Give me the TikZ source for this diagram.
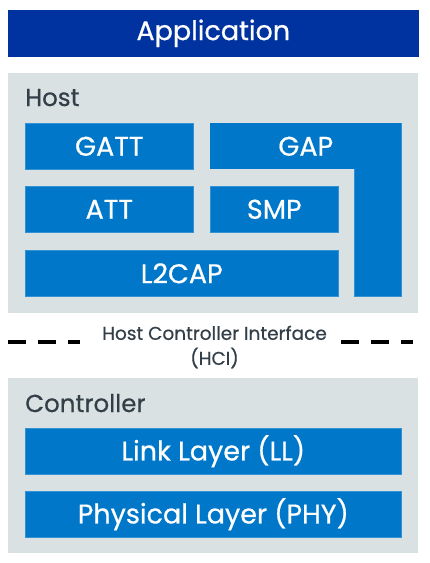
\documentclass[tikz,border=0pt]{standalone}
\usepackage{fontspec}
\setmainfont{Poppins}
\newfontfamily\blkfont{Poppins}[FakeBold=0.6]
\usetikzlibrary{positioning}
\definecolor{appblue}{HTML}{0033A0}
\definecolor{blkblue}{HTML}{0077C8}
\definecolor{panelgray}{HTML}{D9E1E2}
\definecolor{labelgray}{HTML}{333F48}
\tikzset{
panel/.style={fill=panelgray, anchor=north west, inner sep=0pt},
blk/.style={
  fill=blkblue, draw=blkblue!80!white, line width=0.6pt,
  text=white, anchor=north west, inner sep=0pt,
  minimum height=46pt,
  font=\blkfont\fontsize{27}{30}\selectfont
},
paneltitle/.style={anchor=base west, inner sep=0pt, text=labelgray, font=\blkfont\fontsize{24.5}{26}\selectfont},
hcidash/.style={line width=4pt, dash pattern=on 18pt off 12pt},
}
\begin{document}
\begin{tikzpicture}[x=1pt, y=-1pt]
    \useasboundingbox (0,0) rectangle (429,563);
    % application on top
    \node[blk, fill=appblue, draw=appblue, minimum width=410pt, minimum height=46pt] (app) at (8,10) {Application};
    % host part
    \node[panel, minimum width=410pt, minimum height=240pt] (host) at (8,73) {};
    \node[paneltitle] (hosttitle) at (25,106) {Host};
    \node[blk, minimum width=168pt] (gatt) at (25,123) {GATT};
    \node[blk, minimum width=47pt, minimum height=173pt] (gapleg) at (354,123) {};
    \node[blk, draw=none, minimum width=191pt] (gap) at (210,123) {GAP};
    \node[blk, minimum width=168pt] (att) at (25,186) {ATT};
    \node[blk, minimum width=128pt] (smp) at (210,186) {SMP};
    \node[blk, minimum width=313pt] (l2cap) at (25,250) {L2CAP};
    % interface
    \node[align=center, inner sep=0pt, text=labelgray, font=\blkfont\fontsize{18.5}{25}\selectfont] (hci) at (214.5,347) {Host Controller Interface\\(HCI)};
    \coordinate (hcil1) at (8,342);
    \coordinate (hcil2) at (80,342);
    \coordinate (hcir1) at (341,342);
    \coordinate (hcir2) at (413,342);
    \draw[hcidash] (hcil1) -- (hcil2);
    \draw[hcidash] (hcir1) -- (hcir2);
    % controller part
    \node[panel, minimum width=410pt, minimum height=175pt] (ctrl) at (8,378) {};
    \node[paneltitle] (ctrltitle) at (25,412) {Controller};
    \node[blk, minimum width=376pt] (ll) at (25,428) {Link Layer (LL)};
    \node[blk, minimum width=376pt] (phy) at (25,491) {Physical Layer (PHY)};
\end{tikzpicture}
\end{document}
